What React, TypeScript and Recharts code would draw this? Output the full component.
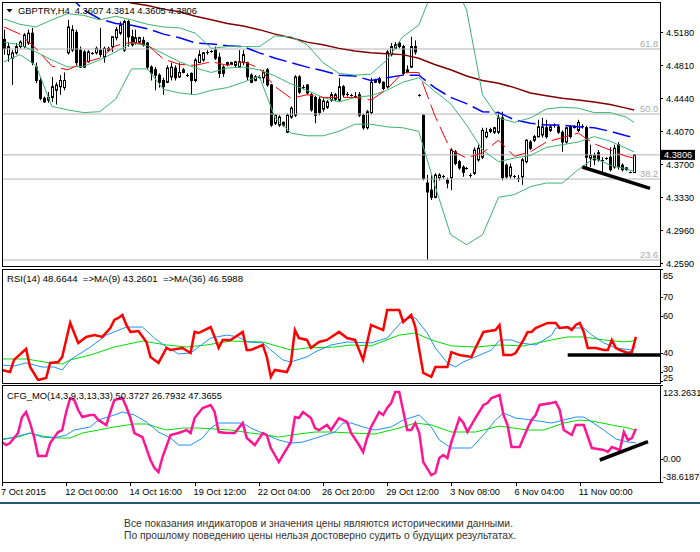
import React from 'react';
import { ComposedChart, Bar, Line, XAxis, YAxis, ReferenceLine } from 'recharts';

const FONT = '"Liberation Sans", Arial, sans-serif';

// ---------- price candles (H4 bars, index 0 = 7 Oct 2015 08:00) ----------
const openP = [
  4.510,4.493,4.489,4.495,4.502,4.502,4.506,4.517,4.479,4.464,
  4.444,4.442,4.445,4.453,4.457,4.456,4.495,4.498,4.518,4.498,
  4.496,4.485,4.495,4.495,4.498,4.490,4.498,4.502,4.512,4.517,
  4.498,4.530,4.513,4.506,4.507,4.509,4.506,4.479,4.476,4.470,
  4.464,4.462,4.468,4.478,4.468,4.473,4.470,4.472,4.464,4.484,
  4.487,4.495,4.496,4.498,4.490,4.479,4.484,4.482,4.481,4.479,
  4.484,4.484,4.470,4.464,4.467,4.467,4.476,4.459,4.416,4.414,
  4.417,4.406,4.423,4.425,4.468,4.457,4.459,4.448,4.445,4.443,
  4.432,4.434,4.442,4.443,4.442,4.457,4.449,4.448,4.446,4.448,
  4.425,4.411,4.428,4.462,4.466,4.462,4.457,4.493,4.500,4.506,
  4.502,4.473,4.479,4.502,4.448,4.425,4.349,4.341,4.333,4.355,
  4.357,4.352,4.355,4.384,4.373,4.367,4.365,4.357,4.360,4.375,
  4.378,4.401,4.407,4.406,4.406,4.422,4.369,4.357,4.357,4.355,
  4.356,4.373,4.395,4.397,4.401,4.403,4.411,4.408,4.413,4.412,
  4.406,4.395,4.412,4.412,4.408,4.413,4.411,4.377,4.380,4.383,
  4.375,4.376,4.378,4.367,4.392,4.369,4.366,4.361,4.3607,
];
const highP = [
  4.521,4.506,4.498,4.506,4.509,4.517,4.521,4.523,4.484,4.467,
  4.446,4.451,4.468,4.462,4.470,4.473,4.532,4.526,4.521,4.502,
  4.498,4.498,4.496,4.502,4.523,4.502,4.502,4.513,4.524,4.530,
  4.532,4.532,4.521,4.521,4.513,4.513,4.507,4.481,4.479,4.472,
  4.467,4.481,4.484,4.481,4.484,4.478,4.472,4.473,4.489,4.498,
  4.496,4.498,4.498,4.502,4.495,4.481,4.485,4.485,4.486,4.498,
  4.498,4.485,4.472,4.470,4.470,4.476,4.478,4.460,4.426,4.425,
  4.418,4.427,4.435,4.470,4.470,4.459,4.460,4.450,4.447,4.446,
  4.444,4.442,4.451,4.450,4.467,4.459,4.451,4.449,4.451,4.451,
  4.427,4.431,4.467,4.466,4.468,4.463,4.498,4.506,4.507,4.507,
  4.504,4.481,4.513,4.509,4.449,4.426,4.358,4.358,4.360,4.360,
  4.358,4.355,4.388,4.386,4.375,4.369,4.367,4.360,4.389,4.392,
  4.411,4.411,4.411,4.412,4.429,4.429,4.371,4.371,4.358,4.358,
  4.377,4.398,4.397,4.403,4.420,4.422,4.420,4.414,4.416,4.414,
  4.408,4.412,4.414,4.414,4.420,4.415,4.413,4.392,4.383,4.386,
  4.378,4.378,4.389,4.392,4.395,4.371,4.367,4.362,4.3814,
];
const lowP = [
  4.493,4.485,4.459,4.493,4.500,4.500,4.504,4.481,4.461,4.442,
  4.439,4.439,4.440,4.437,4.448,4.453,4.493,4.496,4.481,4.478,
  4.478,4.484,4.493,4.493,4.490,4.484,4.496,4.496,4.509,4.515,
  4.496,4.502,4.502,4.504,4.506,4.502,4.476,4.464,4.453,4.456,
  4.448,4.461,4.464,4.464,4.467,4.472,4.468,4.448,4.462,4.484,
  4.485,4.493,4.495,4.487,4.467,4.468,4.480,4.481,4.479,4.478,
  4.481,4.464,4.461,4.463,4.466,4.461,4.457,4.412,4.414,4.412,
  4.412,4.405,4.421,4.423,4.449,4.454,4.448,4.429,4.416,4.425,
  4.429,4.432,4.440,4.441,4.440,4.445,4.446,4.446,4.444,4.423,
  4.409,4.409,4.426,4.461,4.460,4.453,4.455,4.491,4.499,4.500,
  4.470,4.472,4.478,4.493,4.446,4.352,4.263,4.330,4.332,4.352,
  4.354,4.343,4.341,4.369,4.364,4.356,4.364,4.355,4.358,4.373,
  4.376,4.399,4.405,4.404,4.404,4.352,4.354,4.354,4.354,4.350,
  4.347,4.371,4.386,4.395,4.400,4.400,4.399,4.406,4.411,4.404,
  4.384,4.393,4.399,4.410,4.406,4.410,4.367,4.367,4.369,4.373,
  4.360,4.375,4.362,4.365,4.364,4.362,4.363,4.360,4.3605,
];
const closeP = [
  4.500,4.502,4.495,4.502,4.507,4.515,4.517,4.484,4.464,4.444,
  4.440,4.445,4.457,4.459,4.464,4.464,4.524,4.521,4.484,4.479,
  4.479,4.496,4.495,4.500,4.493,4.500,4.500,4.513,4.521,4.526,
  4.530,4.513,4.504,4.512,4.512,4.504,4.479,4.472,4.470,4.462,
  4.457,4.478,4.479,4.467,4.473,4.476,4.470,4.464,4.487,4.493,
  4.495,4.496,4.497,4.489,4.472,4.472,4.482,4.484,4.485,4.485,
  4.493,4.468,4.462,4.468,4.468,4.473,4.459,4.414,4.425,4.423,
  4.414,4.425,4.433,4.468,4.451,4.456,4.450,4.431,4.425,4.428,
  4.441,4.440,4.448,4.448,4.457,4.448,4.448,4.448,4.447,4.425,
  4.411,4.429,4.462,4.464,4.462,4.455,4.496,4.502,4.504,4.502,
  4.472,4.476,4.502,4.496,4.447,4.354,4.339,4.333,4.358,4.358,
  4.356,4.349,4.386,4.371,4.366,4.361,4.366,4.358,4.386,4.388,
  4.408,4.406,4.409,4.411,4.422,4.355,4.356,4.367,4.356,4.355,
  4.375,4.397,4.388,4.401,4.412,4.412,4.401,4.412,4.414,4.406,
  4.395,4.411,4.401,4.411,4.417,4.412,4.378,4.380,4.375,4.375,
  4.374,4.377,4.364,4.388,4.367,4.364,4.364,4.361,4.3806,
];

// ---------- main-window indicators, read at these bars ----------
const lineBars = [0,4,8,12,16,20,24,28,32,36,40,44,48,52,56,60,64,68,72,76,80,84,88,92,96,100,104,108,112,116,120,124,128,132,136,140,144,148,152,156,158];
const bbUpper = [4.533,4.527,4.524,4.532,4.539,4.537,4.532,4.536,4.532,4.527,4.524,4.523,4.517,4.500,4.502,4.502,4.502,4.514,4.513,4.504,4.484,4.472,4.470,4.471,4.487,4.513,4.526,4.571,4.582,4.543,4.448,4.422,4.417,4.422,4.432,4.434,4.433,4.428,4.428,4.423,4.417];
const bbMiddle = [4.507,4.504,4.496,4.487,4.479,4.480,4.487,4.496,4.506,4.503,4.494,4.485,4.478,4.473,4.478,4.479,4.476,4.469,4.460,4.453,4.445,4.440,4.445,4.447,4.453,4.462,4.467,4.452,4.438,4.414,4.386,4.373,4.377,4.380,4.389,4.392,4.395,4.401,4.396,4.388,4.384];
const bbLower = [4.485,4.493,4.481,4.435,4.431,4.428,4.429,4.443,4.477,4.477,4.454,4.450,4.448,4.453,4.456,4.462,4.469,4.422,4.405,4.402,4.402,4.407,4.415,4.415,4.412,4.411,4.407,4.347,4.291,4.280,4.291,4.333,4.336,4.345,4.349,4.349,4.364,4.377,4.369,4.365,4.362];
const maFast = [4.524,4.516,4.500,4.480,4.476,4.484,4.489,4.503,4.507,4.504,4.488,4.482,4.481,4.485,4.481,4.485,4.478,4.457,4.444,4.448,4.445,4.445,4.445,4.442,4.454,4.473,4.473,4.425,4.386,4.377,4.383,4.397,4.379,4.384,4.395,4.400,4.405,4.393,4.386,4.379,4.377];
const maMid = [4.599,4.588,4.577,4.566,4.560,4.543,4.533,4.528,4.526,4.522,4.516,4.512,4.506,4.505,4.503,4.502,4.495,4.489,4.484,4.479,4.475,4.470,4.469,4.464,4.467,4.470,4.470,4.456,4.445,4.438,4.429,4.428,4.420,4.416,4.414,4.414,4.412,4.411,4.407,4.402,4.400];
const maSlow = [4.593,4.588,4.582,4.577,4.571,4.565,4.560,4.555,4.551,4.548,4.544,4.541,4.536,4.532,4.528,4.525,4.521,4.516,4.512,4.507,4.504,4.500,4.497,4.495,4.494,4.493,4.489,4.482,4.476,4.469,4.464,4.461,4.456,4.450,4.447,4.444,4.442,4.440,4.437,4.433,4.431];
const priceTrend: [number, number][] = [[145, 4.367], [162, 4.343]];

// ---------- RSI window ----------
const rsi14: [number, number][] = [[0,30.9],[2,29.8],[3,36.3],[6,42.2],[7,32.5],[9,25.5],[11,26.6],[12,34.7],[14,35.2],[15,37.9],[17,56.2],[18,50.7],[19,45.4],[21,48.6],[23,49.6],[25,48.6],[27,53.4],[28,57.7],[29,58.8],[30,60.4],[31,55.0],[32,51.3],[34,51.8],[36,45.9],[37,37.9],[39,34.7],[41,42.7],[42,41.6],[45,42.7],[47,40.0],[48,51.3],[49,50.7],[52,53.9],[53,48.6],[54,42.7],[55,47.0],[57,47.0],[60,51.3],[61,41.6],[62,41.6],[65,44.3],[66,37.9],[67,27.2],[68,30.9],[71,29.8],[72,34.7],[73,52.3],[74,48.0],[76,47.0],[77,42.7],[79,45.9],[81,47.0],[84,51.3],[86,48.0],[87,47.5],[88,47.0],[90,36.3],[92,55.0],[95,52.3],[96,63.0],[99,63.0],[100,56.6],[102,60.4],[103,54.0],[104,41.6],[105,29.3],[107,27.2],[108,32.5],[111,32.5],[112,40.5],[114,38.9],[117,37.9],[118,42.7],[120,51.3],[123,52.3],[124,55.0],[125,38.9],[127,38.9],[128,40.0],[130,47.0],[131,51.3],[132,51.3],[133,53.4],[136,56.1],[138,56.1],[139,53.4],[141,53.9],[142,52.3],[143,55.0],[144,56.1],[145,51.3],[146,42.7],[148,42.7],[150,41.6],[151,41.6],[152,47.0],[153,42.7],[154,41.6],[156,40.0],[157,40.5],[158,48.6644]];
const rsiMa9: [number, number][] = [[0,33.6],[3,33.0],[6,34.7],[10,32.5],[13,32.5],[15,30.9],[17,36.3],[22,43.2],[26,49.6],[31,53.9],[35,53.9],[38,48.0],[41,43.2],[44,39.5],[47,40.0],[49,43.2],[52,48.0],[56,49.6],[59,48.6],[61,45.9],[65,45.4],[67,41.6],[70,36.3],[72,35.2],[76,37.9],[78,40.5],[82,44.3],[86,45.9],[92,45.4],[96,48.0],[100,57.7],[102,58.8],[103,58.8],[106,50.7],[108,42.7],[111,34.7],[113,32.5],[115,35.2],[118,37.9],[122,41.6],[124,47.0],[127,47.0],[129,45.4],[133,44.3],[137,49.6],[138,53.4],[141,53.4],[145,53.4],[147,49.6],[150,45.4],[153,42.7],[157,41.6],[158,43.2601]];
const rsiMa36: [number, number][] = [[0,36.8],[6,36.8],[12,34.7],[15,34.1],[17,36.3],[22,38.9],[28,43.2],[35,46.4],[41,44.3],[46,43.2],[51,44.3],[57,46.4],[65,45.9],[72,41.6],[76,42.7],[83,43.2],[87,44.3],[92,43.8],[99,49.6],[103,50.7],[107,47.0],[112,43.8],[118,43.2],[124,44.3],[130,43.8],[137,47.0],[141,48.6],[145,48.6],[150,47.0],[155,45.9],[158,46.5988]];
const rsiTrend: [number, number][] = [[141, 38.9], [164, 38.9]];

// ---------- CFG_MO window ----------
const cfgMain: [number, number][] = [[0,28.1],[1,23.1],[2,26.4],[4,43.1],[5,69.8],[6,78.2],[7,59.8],[8,36.4],[9,4.7],[11,4.7],[12,26.4],[14,44.8],[15,48.1],[16,78.2],[17,101.6],[18,98.2],[19,81.5],[20,69.8],[22,73.2],[23,73.2],[24,64.8],[26,56.5],[27,78.2],[28,98.2],[30,101.6],[31,86.5],[32,68.2],[33,43.1],[35,36.4],[37,-1.9],[38,-15.3],[39,-22.0],[40,3.1],[42,39.8],[44,43.1],[46,48.1],[47,43.1],[48,68.2],[50,84.9],[52,89.9],[53,78.2],[54,44.8],[56,43.1],[58,43.1],[60,59.8],[61,34.8],[63,23.1],[65,43.1],[66,39.8],[67,18.1],[69,-5.3],[70,6.4],[72,28.1],[73,69.8],[74,68.2],[75,78.2],[77,68.2],[78,51.5],[79,48.1],[81,56.5],[82,48.1],[84,68.2],[86,61.5],[87,43.1],[89,23.1],[90,11.4],[91,34.8],[92,53.2],[94,78.2],[95,73.2],[96,84.9],[97,93.2],[98,111.6],[99,111.6],[101,48.1],[102,48.1],[103,59.8],[104,43.1],[105,-5.3],[107,-27.0],[108,-23.6],[109,1.4],[110,6.4],[111,1.4],[112,28.1],[114,68.2],[115,59.8],[116,44.8],[118,68.2],[120,89.9],[121,93.2],[122,101.6],[124,106.6],[125,73.2],[126,56.5],[127,19.8],[129,19.8],[131,51.5],[132,64.8],[133,73.2],[134,89.9],[137,93.2],[138,94.9],[139,81.5],[140,48.1],[142,39.8],[143,56.5],[145,56.5],[147,18.1],[150,14.8],[151,11.4],[152,19.8],[154,14.8],[155,44.8],[156,31.4],[157,34.8],[158,50.3727]];
const cfgSignal: [number, number][] = [[0,31.4],[3,36.4],[7,43.1],[10,36.4],[13,34.8],[16,39.8],[18,48.1],[22,53.2],[24,64.8],[28,73.2],[30,78.2],[33,73.2],[36,61.5],[39,44.8],[42,34.8],[44,23.1],[47,23.1],[50,34.8],[52,51.5],[54,59.8],[57,59.8],[60,59.8],[62,51.5],[66,39.8],[69,31.4],[72,26.4],[75,28.1],[79,36.4],[83,44.8],[85,59.8],[87,59.8],[90,53.2],[93,48.1],[97,53.2],[100,64.8],[104,73.2],[107,53.2],[109,31.4],[112,18.1],[117,18.1],[120,39.8],[123,64.8],[125,76.5],[128,68.2],[132,64.8],[137,59.8],[140,64.8],[143,69.8],[145,69.8],[147,61.5],[150,48.1],[153,33.1],[156,28.1],[158,26.7932]];
const cfgSlow: [number, number][] = [[0,33.1],[4,36.4],[7,43.1],[10,38.1],[14,34.8],[17,34.8],[20,43.1],[24,48.1],[28,53.2],[33,58.2],[36,58.2],[41,48.1],[45,51.5],[49,51.5],[53,49.8],[57,48.1],[62,43.1],[66,39.8],[69,36.4],[74,41.5],[78,44.8],[82,44.8],[87,43.1],[93,41.5],[99,51.5],[103,59.8],[107,56.5],[112,44.8],[118,44.8],[124,54.8],[131,48.1],[135,48.1],[140,59.8],[144,64.8],[147,63.1],[152,56.5],[156,51.5],[158,47.3655]];
const cfgTrend: [number, number][] = [[149, -1.9], [161, 28.6]];

// ---------- axes / labels ----------
const TOTAL_SLOTS = 165;
const xTickBars = [0,16,32,48,64,80,96,112,128,144];
const xTickLabels = ['7 Oct 2015','12 Oct 00:00','14 Oct 16:00','19 Oct 12:00','22 Oct 04:00','26 Oct 20:00','29 Oct 12:00','3 Nov 08:00','6 Nov 04:00','11 Nov 00:00'];
const priceTicks = [4.259,4.296,4.333,4.370,4.407,4.444,4.481,4.518];
const rsiTicks = [85,70,60,40,30,25];
const cfgTicks = [123.2631, 0, -38.6187];
const cfgTickLabels = ['123.2631','0.00','-38.6187'];
const fibLevels = [4.4993, 4.4264, 4.3535, 4.2627];
const fibLabels = ['61.8','50.0','38.2','23.6'];
const lastPrice = 4.3806;
const headerMain = 'GBPTRY,H4  4.3607 4.3814 4.3605 4.3806';
const headerRsi = 'RSI(14) 48.6644  =>MA(9) 43.2601  =>MA(36) 46.5988';
const headerCfg = 'CFG_MO(14,3,9,3,13,33) 50.3727 26.7932 47.3655';
const footer1 = 'Все показания индикаторов и значения цены являются историческими данными.';
const footer2 = 'По прошлому поведению цены нельзя достоверно судить о будущих результатах.';

// ---------- table ----------
const rows: any[] = Array.from({ length: TOTAL_SLOTS }, (_, i) => ({ i }));
openP.forEach((v, i) => {
  rows[i].open = v; rows[i].high = highP[i]; rows[i].low = lowP[i]; rows[i].close = closeP[i];
});
const putSampled = (key: string, vals: number[]) => lineBars.forEach((b, k) => { rows[b][key] = vals[k]; });
putSampled('bbUp', bbUpper);
putSampled('bbMid', bbMiddle);
putSampled('bbLow', bbLower);
putSampled('maFast', maFast);
putSampled('maMid', maMid);
putSampled('maSlow', maSlow);
const putPairs = (key: string, pairs: [number, number][]) => pairs.forEach(([b, v]) => { rows[b][key] = v; });
putPairs('trend', priceTrend);
putPairs('rsi', rsi14);
putPairs('rsiMa9', rsiMa9);
putPairs('rsiMa36', rsiMa36);
putPairs('rsiTrend', rsiTrend);
putPairs('cfg', cfgMain);
putPairs('cfgSig', cfgSignal);
putPairs('cfgSlow', cfgSlow);
putPairs('cfgTrend', cfgTrend);

const candleRange = (d: any) => (d.high != null ? [d.low, d.high] : null);

const Candle = (props: any) => {
  const d = props.payload ?? props;
  if (!d || d.high == null) return null;
  const { open, close, high, low } = d;
  const h = Math.abs(props.height ?? 0);
  const top = Math.min(props.y, props.y + (props.height ?? 0));
  const cx = Math.round(props.x + props.width / 2) + 0.5;
  const span = high - low;
  const k = span > 0 ? h / span : 0;
  const py = (v: number) => top + (high - v) * k;
  const yo = py(open);
  const yc = py(close);
  const bTop = Math.min(yo, yc);
  const bBot = Math.max(yo, yc);
  const bull = close >= open;
  return (
    <g>
      <line x1={cx} x2={cx} y1={top} y2={top + h} stroke="#000" strokeWidth={1} />
      {bBot - bTop < 1 ? (
        <line x1={cx - 1.5} x2={cx + 1.5} y1={Math.round(bTop) + 0.5} y2={Math.round(bTop) + 0.5} stroke="#000" strokeWidth={1} />
      ) : (
        <rect x={cx - 1} y={bTop} width={2} height={bBot - bTop} fill={bull ? '#fff' : '#000'} stroke="#000" strokeWidth={1} />
      )}
    </g>
  );
};

const FibLabel = (props: any) => {
  const vb = props.viewBox;
  if (!vb) return null;
  return (
    <text x={vb.x + vb.width - 2} y={vb.y - 2.5} textAnchor="end" fontSize={9.2} fontFamily={FONT} fill="#a8a8a8">
      {props.text}
    </text>
  );
};

const PriceBox = (props: any) => {
  const vb = props.viewBox;
  if (!vb) return null;
  const x0 = vb.x + vb.width + 1;
  return (
    <g>
      <rect x={x0} y={vb.y - 5} width={34} height={10} fill="#000" />
      <text x={x0 + 3} y={vb.y + 3.4} fontSize={9.2} fontFamily={FONT} fill="#fff">{props.text}</text>
    </g>
  );
};

const makeSideTick = (fmt: (v: number) => string, nudge: (v: number) => number, gap: number) => (p: any) => {
  const v = p.payload.value;
  return (
    <g>
      <line x1={p.x} x2={p.x + 3} y1={Math.round(p.y) + 0.5} y2={Math.round(p.y) + 0.5} stroke="#000" strokeWidth={1} />
      <text x={p.x + gap} y={p.y + nudge(v)} dy={3.3} fontSize={9.2} fontFamily={FONT} fill="#000">{fmt(v)}</text>
    </g>
  );
};

const priceTick = makeSideTick((v) => v.toFixed(4), () => 0, 6);
const rsiTick = makeSideTick(
  (v) => String(v),
  (v) => (v === 85 ? 7 : v === 25 ? -3 : v === 30 ? -2.5 : 0),
  3,
);
const cfgTick = makeSideTick(
  (v) => cfgTickLabels[cfgTicks.indexOf(v)] ?? String(v),
  (v) => (v === cfgTicks[0] ? 8 : v === cfgTicks[2] ? -5 : 0),
  3,
);

const TimeTick = (p: any) => {
  const idx = xTickBars.indexOf(p.payload.value);
  const tx = Math.round(p.x) + 0.5;
  return (
    <g>
      <line x1={tx} x2={tx} y1={p.y} y2={p.y + 4} stroke="#000" strokeWidth={1} />
      <text x={p.x - 1} y={p.y + 13} fontSize={9.2} fontFamily={FONT} fill="#000">{xTickLabels[idx]}</text>
    </g>
  );
};

const lineCommon = { type: 'linear' as const, dot: false, activeDot: false, connectNulls: true, isAnimationActive: false };

export default function App() {
  return (
    <div style={{ position: 'absolute', left: 0, top: 0, width: 700, height: 552, background: '#fff', overflow: 'hidden' }}>
      {/* main price window */}
      <div style={{ position: 'absolute', left: 0, top: 0 }}>
        <ComposedChart width={700} height={272} data={rows} margin={{ top: 2, right: 0, bottom: 6, left: 2 }}>
          <XAxis dataKey="i" type="category" hide />
          <YAxis orientation="right" width={40} type="number" domain={[4.256, 4.552]} allowDataOverflow ticks={priceTicks} interval={0}
            tickSize={0} tickMargin={0} axisLine={false} tickLine={false} tick={priceTick} />
          {fibLevels.map((v, k) => (
            <ReferenceLine key={`f${k}`} y={v} stroke="#b4b4b4" strokeWidth={1} label={<FibLabel text={fibLabels[k]} />} />
          ))}
          <ReferenceLine y={lastPrice} stroke="#b4b4b4" strokeWidth={1} label={<PriceBox text={lastPrice.toFixed(4)} />} />
          <Bar dataKey={candleRange} shape={(p: any) => <Candle {...p} />} isAnimationActive={false} />
          <Line {...lineCommon} dataKey="maSlow" stroke="#800000" strokeWidth={1.5} />
          <Line {...lineCommon} dataKey="maMid" stroke="#0000ff" strokeWidth={1.5} strokeDasharray="18 6" />
          <Line {...lineCommon} dataKey="bbUp" stroke="#3cb371" strokeWidth={1} />
          <Line {...lineCommon} dataKey="bbMid" stroke="#3cb371" strokeWidth={1} />
          <Line {...lineCommon} dataKey="bbLow" stroke="#3cb371" strokeWidth={1} />
          <Line {...lineCommon} dataKey="maFast" stroke="#ff0000" strokeWidth={1} strokeDasharray="18 6" />
          <Line {...lineCommon} dataKey="trend" stroke="#000" strokeWidth={3.5} />
        </ComposedChart>
      </div>

      {/* RSI window */}
      <div style={{ position: 'absolute', left: 0, top: 262 }}>
        <ComposedChart width={700} height={128} data={rows} margin={{ top: 7, right: 0, bottom: 9, left: 2 }}>
          <XAxis dataKey="i" type="category" hide />
          <YAxis orientation="right" width={40} type="number" domain={[25, 85]} allowDataOverflow ticks={rsiTicks} interval={0}
            tickSize={0} tickMargin={0} axisLine={false} tickLine={false} tick={rsiTick} />
          <Line {...lineCommon} dataKey="rsiMa36" stroke="#00dd00" strokeWidth={1} />
          <Line {...lineCommon} dataKey="rsiMa9" stroke="#1e90ff" strokeWidth={1} />
          <Line {...lineCommon} dataKey="rsi" stroke="#ff0000" strokeWidth={2.5} />
          <Line {...lineCommon} dataKey="rsiTrend" stroke="#000" strokeWidth={3.5} />
        </ComposedChart>
      </div>

      {/* CFG_MO window */}
      <div style={{ position: 'absolute', left: 0, top: 378 }}>
        <ComposedChart width={700} height={124} data={rows} margin={{ top: 7, right: 0, bottom: 0, left: 2 }}>
          <XAxis dataKey="i" type="category" height={20} ticks={xTickBars} interval={0} tickSize={0} tickMargin={0}
            axisLine={false} tickLine={false} tick={(p: any) => <TimeTick {...p} />} />
          <YAxis orientation="right" width={40} type="number" domain={[cfgTicks[2], cfgTicks[0]]} allowDataOverflow ticks={cfgTicks} interval={0}
            tickSize={0} tickMargin={0} axisLine={false} tickLine={false} tick={cfgTick} />
          <Line {...lineCommon} dataKey="cfgSlow" stroke="#00dd00" strokeWidth={1} />
          <Line {...lineCommon} dataKey="cfgSig" stroke="#1e90ff" strokeWidth={1} />
          <Line {...lineCommon} dataKey="cfg" stroke="#ff1493" strokeWidth={2.5} />
          <Line {...lineCommon} dataKey="cfgTrend" stroke="#000" strokeWidth={3.5} />
        </ComposedChart>
      </div>

      {/* frames, window titles, footer */}
      <svg width={700} height={552} style={{ position: 'absolute', left: 0, top: 0, pointerEvents: 'none' }}>
        <rect x={2.5} y={2.5} width={658} height={264} fill="none" stroke="#000" strokeWidth={1} />
        <rect x={2.5} y={269.5} width={658} height={114} fill="none" stroke="#000" strokeWidth={1} />
        <rect x={2.5} y={385.5} width={658} height={97} fill="none" stroke="#000" strokeWidth={1} />
        <polygon points="6.5,9 12.5,9 9.5,12.5" fill="#000" />
        <text x={18} y={13.5} fontSize={9.3} fontFamily={FONT} fill="#000" textLength={179} lengthAdjust="spacingAndGlyphs" xmlSpace="preserve">{headerMain}</text>
        <text x={7} y={282} fontSize={9.3} fontFamily={FONT} fill="#000" textLength={236} lengthAdjust="spacingAndGlyphs" xmlSpace="preserve">{headerRsi}</text>
        <text x={7} y={398.5} fontSize={9.3} fontFamily={FONT} fill="#000" textLength={215} lengthAdjust="spacingAndGlyphs">{headerCfg}</text>
        <rect x={0} y={502} width={700} height={2} fill="#285a6e" />
        <text x={124} y={527} fontSize={10.5} fontFamily={FONT} fill="#333" textLength={389} lengthAdjust="spacingAndGlyphs">{footer1}</text>
        <text x={124} y={539} fontSize={10.5} fontFamily={FONT} fill="#333" textLength={392} lengthAdjust="spacingAndGlyphs">{footer2}</text>
      </svg>
    </div>
  );
}
